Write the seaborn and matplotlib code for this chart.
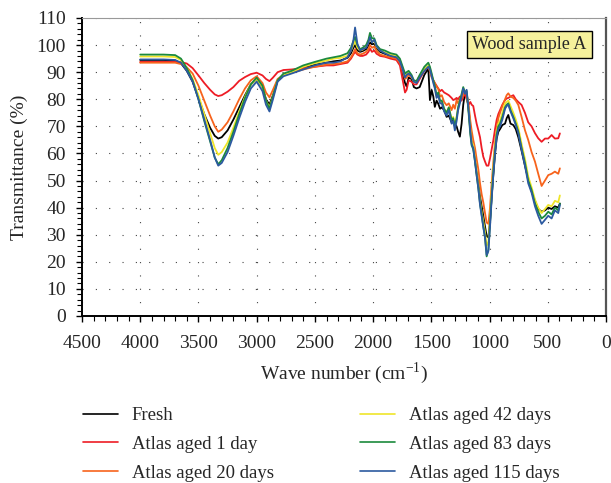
import pandas as pd
import matplotlib.pyplot as plt
import seaborn as sns
import numpy as np
from matplotlib.ticker import MultipleLocator

# Wave numbers (cm-1), shared by all six curves
wavenumber = [
    4000, 3800, 3700, 3650, 3600, 3550, 3500, 3450, 3400, 3360, 3330, 3300, 3250, 3200,
    3150, 3100, 3050, 3000, 2950, 2920, 2890, 2860, 2820, 2770, 2700, 2600, 2500,
    2400, 2340, 2280, 2220, 2190, 2170, 2155, 2135, 2112, 2090, 2060, 2040, 2027, 2010,
    1990, 1970, 1940, 1900, 1850, 1800, 1770, 1750, 1726, 1712, 1695, 1670, 1650, 1627,
    1600, 1560, 1526,
    1512, 1497, 1483, 1470, 1455, 1441, 1425, 1410, 1390, 1369, 1350, 1326, 1312, 1298,
    1283, 1270, 1255, 1240, 1226, 1212, 1197, 1180, 1165, 1154, 1140, 1125, 1111, 1096,
    1082, 1068, 1054, 1039, 1025, 1010,
    996, 982, 967, 953, 939, 925, 910, 890, 867, 853, 839, 820, 796, 775, 753, 725, 696,
    668, 639, 610, 582, 553, 524, 496, 467, 439, 410, 396,
]

fresh = [
    94.5, 94.5, 94.3, 93.3, 90.5, 86.5, 80.5, 74.5, 69.5, 66.5, 65.5, 66, 68.5, 72.5,
    77, 81.5, 85.5, 87.5, 84.5, 80, 78, 81.5, 87, 89, 90, 91.5, 92.8,
    93.5, 94, 94.3, 95.3, 97, 99, 100, 98, 97.5, 97.8, 98.5, 99.8, 101, 100.3,
    100.5, 98.8, 97.5, 96.8, 96, 95.5, 94, 90, 86, 84.7, 88, 87.5, 84.5, 84,
    84.5, 89, 91.4,
    79.7, 83.4, 81, 77.2, 79.5, 78.4, 76.5, 77, 76, 73.5, 74, 71.5, 72.3, 71,
    70, 68, 66.2, 71, 78, 82, 82, 76.5, 69.5, 64.5, 62.5, 58, 53, 49,
    44, 40.5, 37, 33, 29.5, 29,
    35, 44, 52.5, 60, 65.5, 68, 69, 70.5, 71, 73, 74.2, 71, 70.5, 69, 66, 61, 55.5,
    50.5, 46, 42.5, 39.5, 38.5, 39, 40, 39.5, 40.5, 40, 41.5,
]

aged_1 = [
    93.8, 93.8, 93.8, 93.7, 93.2, 91.5, 88.8, 86, 83.5, 81.8, 81.2, 81.5, 82.8, 84.5,
    86.8, 88.2, 89.3, 89.8, 88.8, 87.5, 86.7, 88, 90, 90.8, 91, 91.5, 92,
    92.5, 92.5, 93, 93.5, 95, 96.5, 97.5, 96.5, 96, 96, 96.5, 97.5, 98.7, 97.5,
    98, 96.8, 96, 95.7, 95, 94.5, 92.5, 88, 82.5, 83.5, 87, 86.5, 85.5, 85.5,
    87.5, 90.5, 92,
    90.5, 88.5, 87, 86, 85, 84, 83, 83.5, 82.5, 82, 81.5, 80.5, 79.7, 80,
    80.5, 80, 81, 79.5, 81, 82, 80, 78, 79, 78, 77.5, 74, 71, 68.5,
    66, 62, 58.8, 57, 55.5, 55.5,
    58.2, 61.5, 65, 69, 72.4, 74.5, 76, 78, 79.7, 80.3, 80.5, 81, 81.5, 80, 79, 77.9, 75,
    71.5, 70, 67.5, 65.6, 64.3, 65.5, 65.5, 66.8, 65.5, 65.6, 67.4,
]

aged_20 = [
    93.5, 93.5, 93.5, 93, 91.8, 89.5, 85, 79.5, 74, 70, 68, 68.8, 71.5, 75.5,
    80, 84, 87, 88.5, 86, 82.5, 80.7, 83.5, 87.5, 89, 89.8, 91, 92,
    92.8, 93, 93.3, 94, 95.5, 97, 98.5, 97, 96.5, 96.8, 97.5, 98.5, 100, 99,
    99.5, 97.8, 96.5, 96, 95.5, 95, 93.5, 91, 87.5, 88, 89, 88, 86.8, 86.7,
    88.5, 91, 92,
    90.5, 88, 87, 86, 84.6, 84, 81, 81.5, 79, 77.8, 78.5, 76, 78, 76.5,
    79.7, 78.5, 80, 80.5, 81.5, 83, 82, 78, 72, 68.5, 65, 62, 58, 54,
    49, 45, 42, 38, 34.5, 34,
    40, 49, 57, 64, 69, 73, 75, 77.5, 80, 81.5, 82.2, 81, 80.5, 79.5, 77.9, 73.5, 68.6,
    65, 60.5, 57, 52.5, 48, 50, 52, 52.5, 53.3, 52.5, 54.5,
]

aged_42 = [
    95.8, 95.8, 95.6, 94.5, 91.5, 87.5, 81.5, 74.5, 67.5, 62, 59.5, 60.5, 64, 69.5,
    75.5, 81, 85.5, 87.5, 84.5, 79.5, 77, 81, 87, 89, 90, 92, 93.3,
    94.3, 95, 95.3, 96, 98, 100, 101.5, 99, 98, 98.3, 99.3, 101, 102.5, 101.3,
    101.5, 99.3, 98, 97.3, 96.5, 96, 94.5, 92, 88.5, 89.5, 90, 88.5, 86.5, 86.5,
    88.5, 91.3, 92.5,
    91.5, 89, 86.5, 84.5, 81, 82, 79, 79, 76.5, 75, 77, 72.5, 73.5, 70.5,
    73.5, 77, 79.5, 81.5, 84, 82.5, 83, 76, 68.5, 64.5, 63, 58, 53, 48,
    42.5, 38.5, 35, 31, 26, 27.5,
    36, 46, 55, 62.5, 68, 71, 72, 75, 78.5, 79, 79.5, 77.5, 75, 72.5, 69.5, 63.5, 58,
    51.5, 47.5, 43, 40, 38, 39.5, 41, 40.5, 42.5, 42, 44.5,
]

aged_83 = [
    96.5, 96.5, 96.3, 95, 91.5, 87, 80, 72, 64.5, 58.5, 56, 57.5, 62, 68,
    74.5, 80.5, 85.5, 88, 85, 79.5, 76.5, 81, 87, 89.5, 90.5, 92.5, 93.8,
    95, 95.5, 96, 97, 99, 101.5, 103, 100, 98.5, 99, 100, 102, 104.5, 102.5,
    102.5, 100, 98.5, 98, 97, 96.5, 95, 92.5, 89.5, 90, 90.5, 89, 87, 86.7,
    89, 92, 93.5,
    92, 89.5, 87, 85, 81.5, 82.5, 79.5, 79.5, 76.5, 75, 77, 72.5, 73, 70,
    73, 77, 79.5, 82, 84.5, 82.5, 83, 75, 67, 63, 61.5, 57, 52, 47,
    41.5, 37.5, 33, 29, 22, 24.5,
    34, 44, 53.5, 61, 67, 70, 71, 73.5, 77, 78, 78.5, 76, 73.5, 71, 68, 62, 56.5,
    50, 46.5, 41.5, 38.5, 36, 37, 38.5, 37.5, 40, 39, 41.5,
]

aged_115 = [
    94.7, 94.7, 94.5, 93.5, 90.5, 86.5, 80, 72.5, 65, 58.5, 55.5, 56.5, 60.5, 66.5,
    73, 79, 84, 86.5, 83, 78, 75.5, 80, 86.5, 88.5, 89.5, 91, 92.5,
    93.5, 93.5, 94, 95.5, 98, 101.5, 106.5, 100.5, 98, 98.5, 99, 101, 103, 101,
    102, 99.5, 98, 97, 96, 95.5, 94, 91.5, 88, 89, 89.5, 88.5, 86.5, 86,
    88, 90.5, 92,
    91, 88.5, 86, 84, 80.5, 81.5, 78.5, 78.5, 75.5, 74, 76, 71, 72, 68.5,
    72, 76, 78.5, 81, 84, 82, 83.5, 76, 68, 63.5, 62, 57, 52, 47,
    41, 37, 33, 29, 22.5, 24,
    33, 43, 52.5, 60, 66, 69, 70, 72.5, 76.5, 77.5, 78, 75.5, 73, 70.5, 67.5, 61.5, 55.5,
    49, 45.5, 40.5, 37, 34, 35.5, 37, 36, 39, 38, 41,
]

labels = ["Fresh", "Atlas aged 1 day", "Atlas aged 20 days",
          "Atlas aged 42 days", "Atlas aged 83 days", "Atlas aged 115 days"]
colors = ["#000000", "#ee1c25", "#f7631c", "#efe52a", "#1b8a3c", "#2c5aa0"]
series = [fresh, aged_1, aged_20, aged_42, aged_83, aged_115]

# long-form table for seaborn
df = pd.concat([pd.DataFrame({"wavenumber": wavenumber, "T": s, "sample": lab})
                for s, lab in zip(series, labels)], ignore_index=True)

sns.set_style("white")
plt.rcParams["font.family"] = ["Liberation Serif", "DejaVu Serif"]
plt.rcParams["mathtext.fontset"] = "custom"
plt.rcParams["mathtext.rm"] = "Liberation Serif"

fig = plt.figure(figsize=(6.11, 4.83), dpi=100)
ax = fig.add_axes([82 / 611, 1 - 316 / 483, 524 / 611, 298 / 483])

sns.lineplot(data=df, x="wavenumber", y="T", hue="sample", hue_order=labels,
             palette=colors, estimator=None, linewidth=1.3, ax=ax)

ax.set_xlim(4500, 0)
ax.set_ylim(0, 110)
ax.xaxis.set_major_locator(MultipleLocator(500))
ax.xaxis.set_minor_locator(MultipleLocator(100))
ax.yaxis.set_major_locator(MultipleLocator(10))
ax.yaxis.set_minor_locator(MultipleLocator(2))
ax.grid(True, which="major", color="#444444", linewidth=0.8, linestyle=(0, (1, 11)))

ax.tick_params(axis="both", which="major", direction="out", length=4.5, width=1,
               labelsize=14, color="black")
ax.tick_params(axis="both", which="minor", direction="out", length=3.5, width=0.8,
               color="black")
ax.tick_params(axis="x", which="major", pad=9)
ax.tick_params(axis="y", which="major", pad=7)
ax.tick_params(axis="both", which="both", bottom=True, left=True)

for side in ["left", "bottom"]:
    ax.spines[side].set_color("black")
    ax.spines[side].set_linewidth(1.4)
ax.spines["top"].set_color("#999999")
ax.spines["top"].set_linewidth(0.8)
ax.spines["right"].set_color("#555555")
ax.spines["right"].set_linewidth(1.6)

ax.set_xlabel("Wave number (cm$^{-1}$)", fontsize=14, labelpad=6)
ax.set_ylabel("Transmittance (%)", fontsize=14, labelpad=6)

ax.text(0.854, 0.911, "Wood sample A", transform=ax.transAxes, fontsize=13,
        ha="center", va="center",
        bbox=dict(boxstyle="square,pad=0.3", facecolor="#f6f19c", edgecolor="black",
                  linewidth=1))

ax.get_legend().remove()
handles, _ = ax.get_legend_handles_labels()
fig.legend(handles, labels, loc="upper left", bbox_to_anchor=(83 / 611, 1 - 407 / 483),
           ncol=2, frameon=False, fontsize=13.5, handlelength=1.85, handletextpad=0.75,
           columnspacing=4.6, labelspacing=0.62, borderpad=0, borderaxespad=0)
for line in fig.legends[0].get_lines():
    line.set_linewidth(1.2)

plt.savefig("out.png", dpi=100)
